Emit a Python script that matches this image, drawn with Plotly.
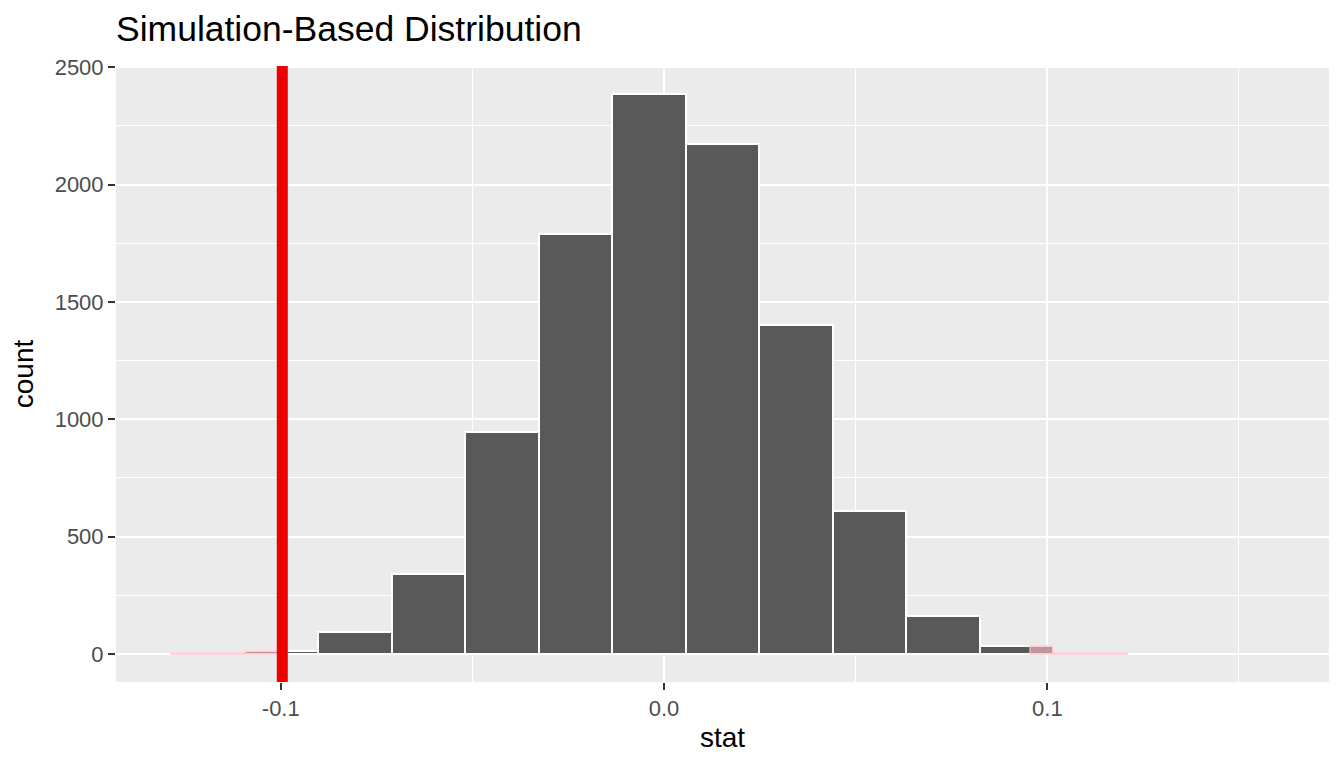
import numpy as np
import plotly.graph_objects as go

# histogram of simulated null statistics (15 bins)
bin_start = -0.1286
bin_width = 0.01918
counts = [3, 14, 94, 341, 948, 1789, 2386, 2174, 1402, 609, 163, 35, 3, 0, 0]

obs_stat = -0.0996
null_center = -0.002

x_tickvals = [-0.1, 0.0, 0.1]
x_ticktext = ["-0.1", "0.0", "0.1"]
y_tickvals = [0, 500, 1000, 1500, 2000, 2500]

FONT = "Liberation Sans"
W, H = 1336, 760  # page body keeps an 8px margin

edges = bin_start + bin_width * np.arange(len(counts) + 1)
lo, hi = edges[:-1], edges[1:]
centers = (lo + hi) / 2

# two-sided shading: left tail up to obs, right tail from mirrored value
mirror = 2 * null_center - obs_stat
tails = [(edges[0], obs_stat), (mirror, edges[-1])]
sx, sw, sy = [], [], []
for a, b, c in zip(lo, hi, counts):
    if c == 0:
        continue
    for t0, t1 in tails:
        left, right = max(a, t0), min(b, t1)
        if right > left:
            sx.append((left + right) / 2)
            sw.append(right - left)
            sy.append(c)

fig = go.Figure()
fig.add_trace(
    go.Bar(
        x=centers,
        y=counts,
        width=[bin_width] * len(counts),
        marker={"color": "#595959", "line": {"color": "white", "width": 2}},
        hoverinfo="x+y",
    )
)
fig.add_trace(
    go.Bar(
        x=sx,
        y=sy,
        width=sw,
        marker={"color": "rgba(255,192,203,0.6)", "line": {"color": "rgba(255,192,203,0.6)", "width": 2}},
        hoverinfo="skip",
    )
)
fig.add_shape(
    type="line", x0=obs_stat, x1=obs_stat, y0=0, y1=1, yref="paper",
    line={"color": "#EE0000", "width": 11},
)

x_span = edges[-1] - edges[0]
y_max = max(counts)
axis_common = dict(
    automargin=False,
    showgrid=True,
    gridcolor="white",
    gridwidth=2.2,
    zeroline=False,
    showline=False,
    ticks="outside",
    ticklen=7,
    tickwidth=2,
    tickcolor="#333333",
    tickfont={"family": FONT, "size": 22, "color": "#4D4D4D"},
)

fig.update_layout(
    width=W,
    height=H,
    barmode="overlay",
    bargap=0,
    showlegend=False,
    paper_bgcolor="white",
    plot_bgcolor="#EBEBEB",
    margin={"l": 108, "r": 15, "t": 58, "b": 86},
    font={"family": FONT, "color": "black"},
    title={
        "text": "Simulation-Based Distribution",
        "x": 0,
        "xref": "paper",
        "xanchor": "left",
        "y": 1 - 21 / H,
        "yref": "container",
        "yanchor": "middle",
        "font": {"family": FONT, "size": 35.5, "color": "black"},
    },
    xaxis=dict(
        axis_common,
        range=[edges[0] - 0.05 * x_span, edges[-1] + 0.05 * x_span],
        tickmode="array",
        tickvals=x_tickvals,
        ticktext=x_ticktext,
        minor={"tickmode": "array", "tickvals": [-0.15, -0.05, 0.05, 0.15],
               "showgrid": True, "gridcolor": "white", "gridwidth": 1.1, "ticks": ""},
        title={"text": "stat", "font": {"family": FONT, "size": 28, "color": "black"}, "standoff": 6},
    ),
    yaxis=dict(
        axis_common,
        range=[-0.05 * y_max, 1.05 * y_max],
        tickmode="array",
        tickvals=y_tickvals,
        minor={"tickmode": "array", "tickvals": [250, 750, 1250, 1750, 2250],
               "showgrid": True, "gridcolor": "white", "gridwidth": 1.1, "ticks": ""},
        title={"text": "count", "font": {"family": FONT, "size": 28, "color": "black"}, "standoff": 12},
    ),
)

fig.write_html("out.html")
